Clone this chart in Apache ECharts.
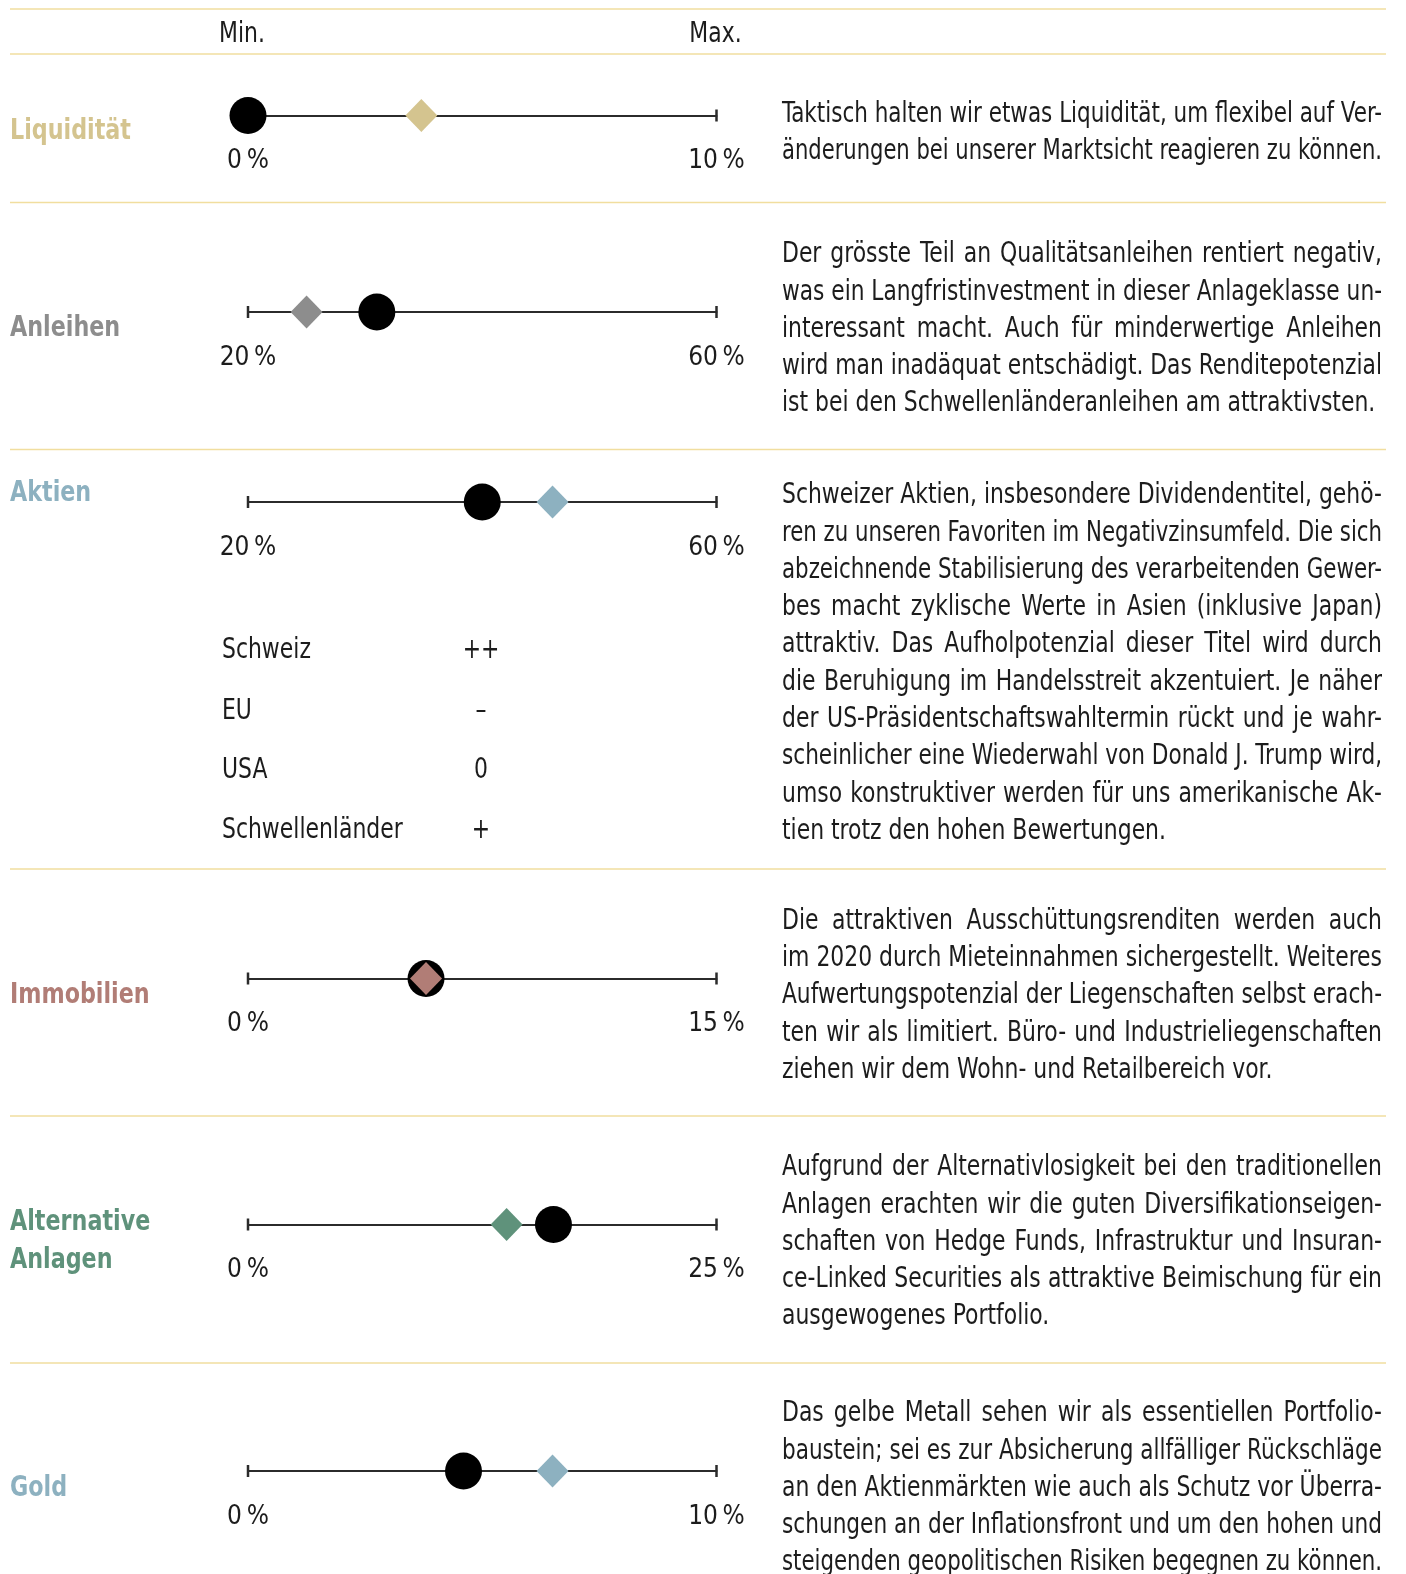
<!DOCTYPE html>
<html>
<head>
<meta charset="utf-8">
<script src="https://cdn.jsdelivr.net/npm/echarts@6/dist/echarts.min.js"></script>
<style>
html, body { margin: 0; padding: 0; background: #fff; }
#chart { width: 1406px; height: 1574px; }
</style>
</head>
<body>
<div id="chart"></div>
<script>
// Daten
var categories = ['Liquidität', 'Anleihen', 'Aktien', 'Immobilien', 'Alternative\nAnlagen', 'Gold'];
var rangeMin = [0, 20, 20, 0, 0, 0];
var rangeMax = [10, 60, 60, 15, 25, 10];
var currentPos = [0, 31, 40, 5.7, 16.3, 4.6];      // schwarzer Punkt
var strategicPos = [3.7, 25, 46, 5.7, 13.8, 6.5];  // Raute
var catColors = ['#d4c48f', '#8d8d8d', '#8db1c0', '#b17d76', '#5f927b', '#8db1c0'];
var headLabels = ['Min.', 'Max.'];
var equityRegions = ['Schweiz', 'EU', 'USA', 'Schwellenländer'];
var equityRatings = ['++', '–', '0', '+'];

var comments = [
	['Taktisch halten wir etwas Liquidität, um flexibel auf Ver-',
	 'änderungen bei unserer Marktsicht reagieren zu können.'],
	['Der grösste Teil an Qualitätsanleihen rentiert negativ,',
	 'was ein Langfristinvestment in dieser Anlageklasse un-',
	 'interessant macht. Auch für minderwertige Anleihen',
	 'wird man inadäquat entschädigt. Das Renditepotenzial',
	 'ist bei den Schwellenländeranleihen am attraktivsten.'],
	['Schweizer Aktien, insbesondere Dividendentitel, gehö-',
	 'ren zu unseren Favoriten im Negativzinsumfeld. Die sich',
	 'abzeichnende Stabilisierung des verarbeitenden Gewer-',
	 'bes macht zyklische Werte in Asien (inklusive Japan)',
	 'attraktiv. Das Aufholpotenzial dieser Titel wird durch',
	 'die Beruhigung im Handelsstreit akzentuiert. Je näher',
	 'der US-Präsidentschaftswahltermin rückt und je wahr-',
	 'scheinlicher eine Wiederwahl von Donald J. Trump wird,',
	 'umso konstruktiver werden für uns amerikanische Ak-',
	 'tien trotz den hohen Bewertungen.'],
	['Die attraktiven Ausschüttungsrenditen werden auch',
	 'im 2020 durch Mieteinnahmen sichergestellt. Weiteres',
	 'Aufwertungspotenzial der Liegenschaften selbst erach-',
	 'ten wir als limitiert. Büro- und Industrieliegenschaften',
	 'ziehen wir dem Wohn- und Retailbereich vor.'],
	['Aufgrund der Alternativlosigkeit bei den traditionellen',
	 'Anlagen erachten wir die guten Diversifikationseigen-',
	 'schaften von Hedge Funds, Infrastruktur und Insuran-',
	 'ce-Linked Securities als attraktive Beimischung für ein',
	 'ausgewogenes Portfolio.'],
	['Das gelbe Metall sehen wir als essentiellen Portfolio-',
	 'baustein; sei es zur Absicherung allfälliger Rückschläge',
	 'an den Aktienmärkten wie auch als Schutz vor Überra-',
	 'schungen an der Inflationsfront und um den hohen und',
	 'steigenden geopolitischen Risiken begegnen zu können.']
];

// Layout
var rowY = [115.5, 312, 502, 978.5, 1224.5, 1471];
var labelY = [131, 328.5, 493.5, 995, 1222.5, 1488];
var textTop = [114.5, 255, 496, 921.5, 1168, 1414];
var sepY = [9, 54, 202.5, 449.5, 869, 1116, 1363];
var regionY = [651, 711.5, 771, 831];
var SCALE_L = 248, SCALE_W = 468.5;
var TEXT_X = 782, TEXT_W = 600, LINE_H = 37.3;
var BODY_SIZE = 28, LABEL_SIZE = 29, TICK_SIZE = 26;
var LABEL_REF_W = 121;   // Breite von "Liquidität" im Original
var INK = '#1c1c1c', RULE = '#2b2b2b', SEP = '#f1de9f';

var measure = document.createElement('canvas').getContext('2d');
function pickFont(list) {
	var probe = 'Liquidität Marktsicht 0123 WMw';
	for (var i = 0; i < list.length; i++) {
		measure.font = '40px "' + list[i] + '", monospace';
		var a = measure.measureText(probe).width;
		measure.font = '40px "' + list[i] + '", serif';
		var b = measure.measureText(probe).width;
		if (a === b) return list[i];
	}
	return 'sans-serif';
}
var FONT = pickFont(['Liberation Sans Narrow', 'DejaVu Sans Condensed', 'Roboto Condensed', 'Liberation Sans']);

function textWidth(s, size, family, weight) {
	measure.font = (weight || 'normal') + ' ' + size + 'px "' + family + '"';
	return measure.measureText(s).width;
}

// gemeinsame horizontale Stauchung der Schrift (etwas breiter als die längste Zeile erlaubt)
var SPACE = textWidth(' ', BODY_SIZE, FONT);
var SX = 1;
comments.forEach(function (lines) {
	lines.forEach(function (line) {
		SX = Math.min(SX, TEXT_W / textWidth(line, BODY_SIZE, FONT));
	});
});
SX = Math.min(1, SX * 1.04);
var LABEL_SX = Math.min(1, LABEL_REF_W / textWidth(categories[0], LABEL_SIZE, FONT, 'bold'));

function txt(x, y, s, opt) {
	opt = opt || {};
	return {
		type: 'text', x: x, y: y, silent: true, scaleX: opt.sx || 1,
		style: {
			text: s, fill: opt.color || INK,
			fontSize: opt.size || BODY_SIZE, fontFamily: opt.family || FONT,
			fontWeight: opt.weight || 'normal',
			align: opt.align || 'left', verticalAlign: 'middle',
			textAlign: opt.align || 'left', textVerticalAlign: 'middle'
		}
	};
}

// Blocksatz: jedes Wort einzeln setzen
function paragraph(lines, top) {
	var els = [];
	lines.forEach(function (line, k) {
		var y = top + k * LINE_H;
		var sx = Math.min(SX, TEXT_W / textWidth(line, BODY_SIZE, FONT));
		var words = line.split(' ');
		var widths = words.map(function (w) { return textWidth(w, BODY_SIZE, FONT) * sx; });
		var sum = widths.reduce(function (a, b) { return a + b; }, 0);
		var last = k === lines.length - 1;
		var gap = SPACE * sx;
		if (!last && words.length > 1) gap = (TEXT_W - sum) / (words.length - 1);
		var x = TEXT_X;
		words.forEach(function (w, j) {
			els.push(txt(x, y, w, { sx: sx }));
			x += widths[j] + gap;
		});
	});
	return els;
}

var grids = [], xAxes = [], yAxes = [], series = [], graphics = [];

categories.forEach(function (c, i) {
	grids.push({ left: SCALE_L, width: SCALE_W, top: rowY[i] - 20, height: 40 });
	xAxes.push({
		type: 'value', gridIndex: i, min: rangeMin[i], max: rangeMax[i],
		axisLine: { show: true, onZero: true, lineStyle: { color: RULE, width: 2 } },
		axisTick: { show: false },
		splitLine: { show: false },
		axisLabel: {
			show: true, margin: 13, fontSize: TICK_SIZE, fontFamily: FONT, color: INK,
			showMinLabel: true, showMaxLabel: true,
			formatter: function (v) {
				return (v === rangeMin[i] || v === rangeMax[i]) ? v + '\u2009%' : '';
			}
		}
	});
	yAxes.push({ type: 'value', gridIndex: i, min: -1, max: 1, show: false });

	// Endmarken der Skala
	series.push({
		type: 'scatter', xAxisIndex: i, yAxisIndex: i, silent: true, clip: false, z: 2,
		symbol: 'rect', symbolSize: [2.5, 12], itemStyle: { color: RULE, opacity: 1 },
		data: [[rangeMin[i], 0], [rangeMax[i], 0]]
	});
	series.push({
		type: 'scatter', xAxisIndex: i, yAxisIndex: i, silent: true, clip: false, z: 3,
		symbol: 'circle', symbolSize: 37, itemStyle: { color: '#000', opacity: 1 },
		data: [[currentPos[i], 0]]
	});
	series.push({
		type: 'scatter', xAxisIndex: i, yAxisIndex: i, silent: true, clip: false, z: 4,
		symbol: 'diamond', symbolSize: [32, 33], itemStyle: { color: catColors[i], opacity: 1 },
		data: [[strategicPos[i], 0]]
	});

	var lbl = c.split('\n');
	lbl.forEach(function (part, k) {
		graphics.push(txt(10, labelY[i] + k * 37.5, part, {
			size: LABEL_SIZE, weight: 'bold', color: catColors[i], sx: LABEL_SX
		}));
	});
	graphics = graphics.concat(paragraph(comments[i], textTop[i]));
});

sepY.forEach(function (y) {
	graphics.push({
		type: 'line', silent: true,
		shape: { x1: 10, y1: y, x2: 1386, y2: y },
		style: { stroke: SEP, lineWidth: 1.5 }
	});
});

graphics.push(txt(242, 35, headLabels[0], { align: 'center', sx: SX }));
graphics.push(txt(715.5, 35, headLabels[1], { align: 'center', sx: SX }));

equityRegions.forEach(function (r, k) {
	graphics.push(txt(222, regionY[k], r, { sx: SX }));
	graphics.push(txt(481, regionY[k], equityRatings[k], { align: 'center', sx: SX }));
});

var chart = echarts.init(document.getElementById('chart'));
chart.setOption({
	animation: false,
	grid: grids,
	xAxis: xAxes,
	yAxis: yAxes,
	series: series,
	graphic: { elements: graphics }
});

window.onresize = function () {
	chart.resize();
};
</script>
</body>
</html>
